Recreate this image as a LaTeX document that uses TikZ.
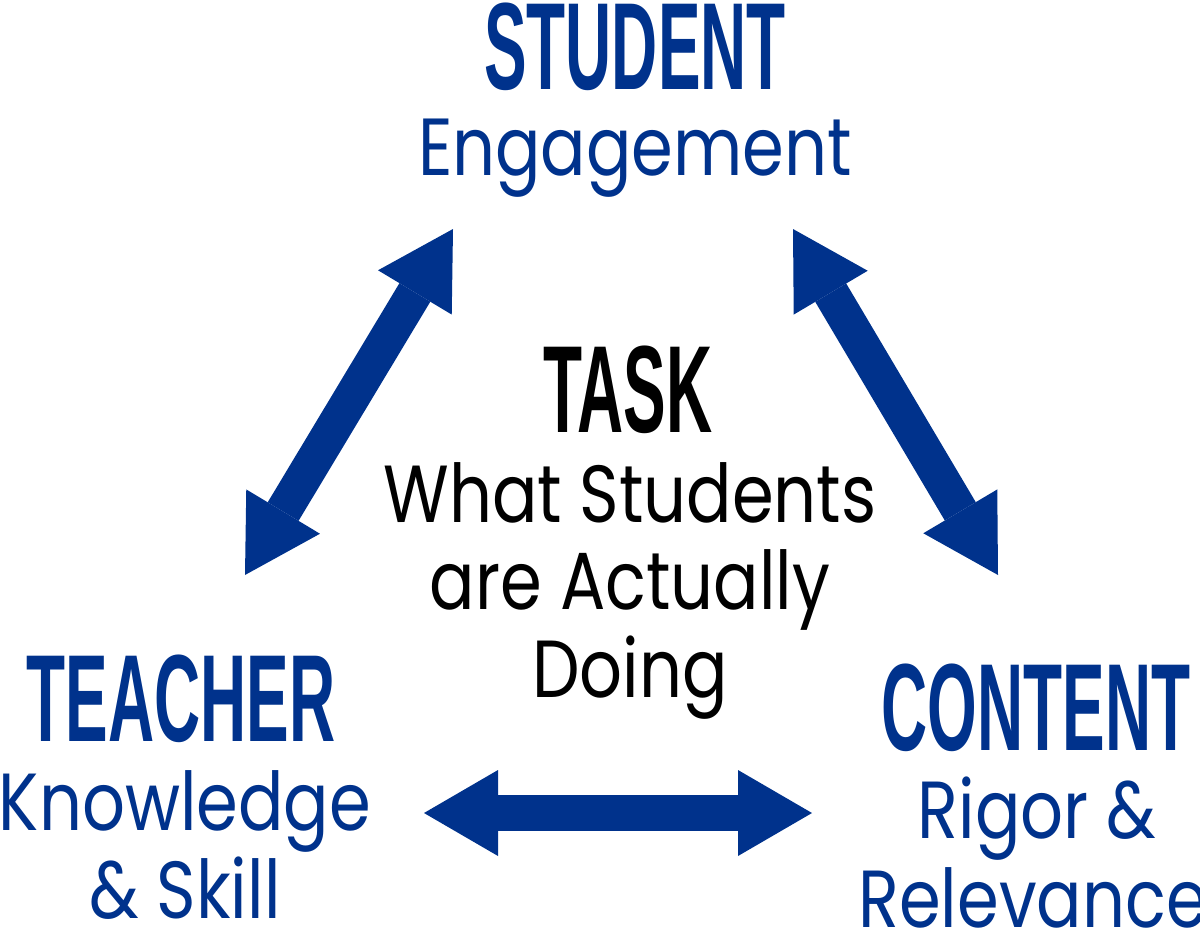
\documentclass[tikz,border=0pt]{standalone}
\usepackage{fontspec}
\usetikzlibrary{arrows.meta}
\newfontfamily\titlefont[FakeStretch=0.515]{Liberation Sans}
\newfontfamily\bodyfont[FakeStretch=0.83]{Poppins}
\definecolor{dblue}{RGB}{0,50,140}
\tikzset{
  title/.style={inner sep=0pt, anchor=base, font=\titlefont\bfseries\fontsize{124}{124}\selectfont},
  body/.style={inner sep=0pt, anchor=base, font=\bodyfont\fontsize{81}{81}\selectfont},
  blk/.style={text=black},
  blu/.style={text=dblue},
  dblarrow/.style={draw=dblue, line width=36pt,
    {Triangle[length=74pt,width=86pt,line width=0pt,fill=dblue]}-{Triangle[length=74pt,width=86pt,line width=0pt,fill=dblue]}}
}
\begin{document}
\begin{tikzpicture}[x=1pt,y=-1pt]
\useasboundingbox (0,0) rectangle (1200,930);
% Student
\node[title,blu] (student) at (635,89) {STUDENT};
\node[body,blu] (engage) at (635,175) {Engagement};
% Task
\node[title,blk] (task) at (628,432) {TASK};
\node[body,blk] (what) at (630,522) {What Students};
\node[body,blk] (actually) at (630,609) {are Actually};
\node[body,blk] (doing) at (630,697) {Doing};
% Teacher
\node[title,blu] (teacher) at (181,741) {TEACHER};
\node[body,blu] (know) at (185,830) {Knowledge};
\node[body,blu] (skill) at (185,918) {\& Skill};
% Content
\node[title,blu] (content) at (1036,750) {CONTENT};
\node[body,blu] (rigor) at (1037,838) {Rigor \&};
\node[body,blu] (relev) at (1033,927) {Relevance};
% arrow end points
\coordinate (lt) at (453,229);
\coordinate (lb) at (245,575);
\coordinate (rt) at (793,229);
\coordinate (rb) at (998,575);
\coordinate (hl) at (424,813);
\coordinate (hr) at (812,813);
\draw[dblarrow] (lb) -- (lt);
\draw[dblarrow] (rt) -- (rb);
\draw[dblarrow] (hl) -- (hr);
\end{tikzpicture}
\end{document}
